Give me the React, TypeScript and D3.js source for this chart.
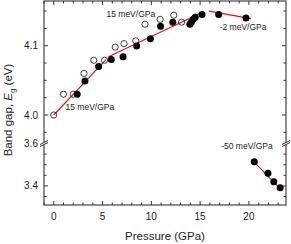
import React from "react";
import * as d3 from "d3";

// open circles (upper panel)
const openP = [0, 1.0, 2.0, 3.1, 4.1, 5.2, 6.3, 7.2, 8.4, 9.35, 10.9, 12.3, 13.1];
const openE = [4.0, 4.03, 4.03, 4.06, 4.079, 4.079, 4.098, 4.103, 4.107, 4.131, 4.138, 4.144, 4.134];

// filled circles
const fillP = [2.4, 3.2, 4.6, 5.9, 7.1, 8.5, 9.9, 10.95, 12.2, 13.95, 14.1, 14.3, 14.5, 15.2, 16.9, 19.7];
const fillE = [4.03, 4.049, 4.07, 4.08, 4.084, 4.0996, 4.11, 4.128, 4.134, 4.131, 4.134, 4.138, 4.141, 4.145, 4.145, 4.14];

// filled circles lower panel
const lowP = [20.55, 21.95, 22.55, 23.2];
const lowE = [3.514, 3.46, 3.42, 3.391];

// linear fits [p0, e0, p1, e1]
const fits = [
  [0, 4.0, 5.35, 4.08],
  [5.6, 4.084, 15.2, 4.148],
  [15.9, 4.15, 20.2, 4.139],
];
const fitLow = [20.3, 3.524, 23.4, 3.378];

const notes = [
  { text: "15 meV/GPa", p: 7.9, e: 4.146, low: false },
  { text: "15 meV/GPa", p: 3.7, e: 4.0115, low: false },
  { text: "-2 meV/GPa", p: 19.4, e: 4.127, low: false },
  { text: "-50 meV/GPa", p: 19.8, e: 3.586, low: true },
];

const xTicks = [0, 5, 10, 15, 20];

const W = 291;
const H = 244;
const L = 44, R = 286, T = 1, B = 205;
const yBreak = 143.5;

export default function App() {
  const x = d3.scaleLinear().domain([-1, 23.8]).range([L, R]);
  const yU = d3.scaleLinear().domain([3.9625, 4.1645]).range([141, T]);
  const yL = d3.scaleLinear().domain([3.31, 3.6]).range([B, yBreak]);
  const font = "'Liberation Sans', Arial, sans-serif";
  const ax = "#333";

  const minorX = d3.range(-1, 24, 1);
  const upTicks = d3.range(3.975, 4.16, 0.025);
  const lowTicks = d3.range(3.35, 3.61, 0.05);

  const line = d3.line<[number, number]>().x(d => d[0]).y(d => d[1]);

  return (
    <svg width={W} height={H} style={{ position: "absolute", left: 0, top: 0 }}>
      <rect width={W} height={H} fill="white" />
      {/* frame */}
      <rect x={L} y={T} width={R - L} height={B - T} fill="none" stroke={ax} strokeWidth={1.1} />
      {/* x ticks bottom & top */}
      {minorX.map(v => {
        const len = v % 5 === 0 ? 4 : 2.5;
        return (
          <g key={"x" + v}>
            <line x1={x(v)} x2={x(v)} y1={B} y2={B - len} stroke={ax} />
            <line x1={x(v)} x2={x(v)} y1={T} y2={T + len} stroke={ax} />
          </g>
        );
      })}
      {xTicks.map(v => (
        <text key={"xl" + v} x={x(v)} y={220} fontSize={10} fontFamily={font} textAnchor="middle" fill="#222">{v}</text>
      ))}
      {/* y ticks upper */}
      {upTicks.map((v, i) => {
        const major = Math.abs(v - 4.0) < 1e-6 || Math.abs(v - 4.1) < 1e-6;
        const len = major ? 4 : 2.5;
        return (
          <g key={"yu" + i}>
            <line x1={L} x2={L + len} y1={yU(v)} y2={yU(v)} stroke={ax} />
            <line x1={R} x2={R - len} y1={yU(v)} y2={yU(v)} stroke={ax} />
          </g>
        );
      })}
      {lowTicks.map((v, i) => {
        const major = Math.abs(v - 3.4) < 1e-6;
        const len = major ? 4 : 2.5;
        return (
          <g key={"yl" + i}>
            <line x1={L} x2={L + len} y1={yL(v)} y2={yL(v)} stroke={ax} />
            <line x1={R} x2={R - len} y1={yL(v)} y2={yL(v)} stroke={ax} />
          </g>
        );
      })}
      {[4.0, 4.1].map(v => (
        <text key={"yul" + v} x={L - 6} y={yU(v) + 3.5} fontSize={10} fontFamily={font} textAnchor="end" fill="#222">{v.toFixed(1)}</text>
      ))}
      {[3.6, 3.4].map(v => (
        <text key={"yll" + v} x={L - 6} y={yL(v) + 3.5} fontSize={10} fontFamily={font} textAnchor="end" fill="#222">{v.toFixed(1)}</text>
      ))}
      {/* axis breaks */}
      {[L, R].map(bx => (
        <g key={"br" + bx}>
          <polygon points={`${bx - 4},${yBreak + 1} ${bx + 4},${yBreak - 3} ${bx + 4},${yBreak - 1} ${bx - 4},${yBreak + 3}`} fill="white" />
          <line x1={bx - 4} y1={yBreak + 1} x2={bx + 4} y2={yBreak - 3} stroke={ax} />
          <line x1={bx - 4} y1={yBreak + 3} x2={bx + 4} y2={yBreak - 1} stroke={ax} />
        </g>
      ))}
      {/* fits */}
      {fits.map((f, i) => (
        <path key={"f" + i} d={line([[x(f[0]), yU(f[1])], [x(f[2]), yU(f[3])]]) || ""} stroke="#e8130f" strokeWidth={1.2} fill="none" />
      ))}
      <path d={line([[x(fitLow[0]), yL(fitLow[1])], [x(fitLow[2]), yL(fitLow[3])]]) || ""} stroke="#e8130f" strokeWidth={1.2} fill="none" />
      {/* points */}
      {openP.map((p, i) => (
        <circle key={"o" + i} cx={x(p)} cy={yU(openE[i])} r={3.1} fill="none" stroke="#111" strokeWidth={0.8} />
      ))}
      {fillP.map((p, i) => (
        <circle key={"c" + i} cx={x(p)} cy={yU(fillE[i])} r={3.5} fill="#000" />
      ))}
      {lowP.map((p, i) => (
        <circle key={"l" + i} cx={x(p)} cy={yL(lowE[i])} r={3.5} fill="#000" />
      ))}
      {notes.map((n, i) => (
        <text key={"n" + i} x={x(n.p)} y={(n.low ? yL(n.e) : yU(n.e)) + 3} fontSize={8.5} fontFamily={font} textAnchor="middle" fill="#222">{n.text}</text>
      ))}
      {/* axis titles */}
      <text x={165} y={240} fontSize={11.5} fontFamily={font} textAnchor="middle" fill="#222">Pressure (GPa)</text>
      <text transform="translate(12,110) rotate(-90)" fontSize={11.5} fontFamily={font} textAnchor="middle" fill="#222">
        Band gap, <tspan fontStyle="italic">E</tspan><tspan fontSize={8} dy={3}>g</tspan><tspan dy={-3}> (eV)</tspan>
      </text>
    </svg>
  );
}
